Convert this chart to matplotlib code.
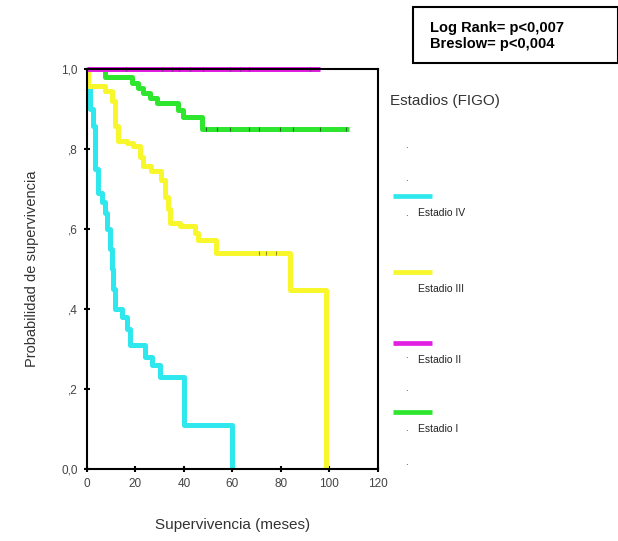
import numpy as np
import matplotlib
matplotlib.use('Agg')
import matplotlib.pyplot as plt
from matplotlib.patches import Rectangle

plt.rcParams['font.family'] = ['Liberation Sans', 'DejaVu Sans']

# Kaplan-Meier steps: times where survival drops, and survival after the drop
t_iv = [0, 0.5, 1.5, 2.5, 3.5, 4.5, 6.5, 7.5, 8.5, 9.5, 10.5, 11, 11.5, 14.5, 16.5, 18, 24, 27, 30, 40, 60]
s_iv = [1.0, 0.95, 0.90, 0.857, 0.75, 0.69, 0.667, 0.64, 0.60, 0.55, 0.50, 0.45, 0.40, 0.38, 0.35, 0.31, 0.28, 0.26, 0.23, 0.11, 0.0]

t_iii = [0, 0.5, 7.5, 10.5, 11.5, 13, 16.4, 19, 21.9, 23.2, 26.6, 30.7, 32.2, 33.6, 34.3, 38.4, 44.6, 45.9, 53.4, 83.7, 98.7]
s_iii = [1.0, 0.957, 0.944, 0.92, 0.857, 0.82, 0.815, 0.807, 0.78, 0.757, 0.744, 0.723, 0.68, 0.65, 0.615, 0.607, 0.59, 0.573, 0.54, 0.448, 0.0]

t_ii = [0, 96]
s_ii = [1.0, 1.0]

t_i = [0, 7.5, 18.5, 21.2, 23.2, 26, 28.8, 37.7, 39.8, 47.3, 108]
s_i = [1.0, 0.98, 0.965, 0.952, 0.94, 0.927, 0.915, 0.898, 0.88, 0.85, 0.85]

# censored cases (small marks on the curves)
cens_ii = [16, 31, 35, 38, 42.5, 48, 59, 63, 67, 92]
cens_i = [49, 53.5, 59, 67, 71, 79.5, 85, 96, 107]
cens_iii = [71, 74, 78]

colors = {'IV': '#2ee8ee', 'III': '#f7f72c', 'II': '#e21ee2', 'I': '#2ee62e'}

fig = plt.figure(figsize=(6.18, 5.41), dpi=100)
ax = fig.add_axes([0.1403, 0.1325, 0.4714, 0.74])

lw = 3.6
ax.step(t_iv, s_iv, where='post', color=colors['IV'], lw=lw, solid_capstyle='butt')
ax.step(t_iii, s_iii, where='post', color=colors['III'], lw=lw, solid_capstyle='butt')
ax.step(t_i, s_i, where='post', color=colors['I'], lw=lw, solid_capstyle='butt')
ax.step(t_ii, s_ii, where='post', color=colors['II'], lw=lw, solid_capstyle='butt', clip_on=False)

ax.plot(cens_ii, [1.0] * len(cens_ii), '|', color='#803080', ms=3, mew=0.8, clip_on=False)
ax.plot(cens_i, [0.85] * len(cens_i), '|', color='#207020', ms=3, mew=0.8)
ax.plot(cens_iii, [0.54] * len(cens_iii), '|', color='#909020', ms=3, mew=0.8)

ax.set_xlim(0, 120)
ax.set_ylim(0, 1.0)
ax.set_xticks([0, 20, 40, 60, 80, 100, 120])
ax.set_yticks([0, 0.2, 0.4, 0.6, 0.8, 1.0])
ax.set_yticklabels(['0,0', ',2', ',4', ',6', ',8', '1,0'])
for sp in ax.spines.values():
    sp.set_linewidth(1.5)
ax.tick_params(direction='inout', length=5, width=1.5, labelsize=8.5, labelcolor='#444444', pad=4)

ax.set_xlabel('Supervivencia (meses)', fontsize=11, color='#333333', labelpad=20)
ax.set_ylabel('Probabilidad de supervivencia', fontsize=10.5, color='#333333', labelpad=16)

# legend drawn by hand, like the original
fig.text(390 / 618, 1 - 101 / 541, 'Estadios (FIGO)', fontsize=11, color='#333333', va='center')
legend_rows = [('IV', 196, 'Estadio IV'), ('III', 272, 'Estadio III'),
               ('II', 343, 'Estadio II'), ('I', 412, 'Estadio I')]
for key, ypix, label in legend_rows:
    fig.add_artist(plt.Line2D([393 / 618, 432 / 618], [1 - ypix / 541, 1 - ypix / 541],
                              color=colors[key], lw=3.4, solid_capstyle='butt'))
    fig.text(418 / 618, 1 - (ypix + 17) / 541, label, fontsize=7.5, color='#222222', va='center')
for ypix in [145, 178, 213, 355, 388, 428, 462]:
    fig.text(405 / 618, 1 - ypix / 541, '.', fontsize=7, color='#333333', va='center')

# test box in the top right corner
fig.add_artist(Rectangle((413 / 618, 1 - 63 / 541), 205 / 618, 56 / 541,
                         transform=fig.transFigure, fc='white', ec='black', lw=1.5))
fig.text(430 / 618, 1 - 36 / 541, 'Log Rank= p<0,007\nBreslow= p<0,004', fontsize=10.5,
         fontweight='bold', va='center', ha='left', linespacing=1.15,
         family=['Liberation Sans Narrow', 'Liberation Sans', 'DejaVu Sans'])

fig.savefig('out.png', dpi=100)
